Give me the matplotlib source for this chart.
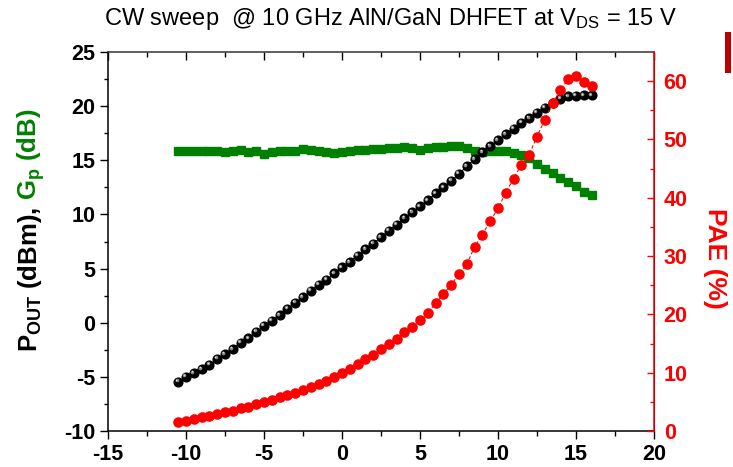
import matplotlib
matplotlib.use("Agg")
import matplotlib.pyplot as plt
import matplotlib.patches as mpatches
from matplotlib.transforms import offset_copy

plt.rcParams['font.family'] = ['Liberation Sans', 'DejaVu Sans']
plt.rcParams['mathtext.default'] = 'regular'
plt.rcParams['axes.unicode_minus'] = False

# input power sweep (dBm)
pin = [-10.5, -10.0, -9.5, -9.0, -8.5, -8.0, -7.5, -7.0, -6.5, -6.0,
       -5.5, -5.0, -4.5, -4.0, -3.5, -3.0, -2.5, -2.0, -1.5, -1.0,
       -0.5, 0.0, 0.5, 1.0, 1.5, 2.0, 2.5, 3.0, 3.5, 4.0,
       4.5, 5.0, 5.5, 6.0, 6.5, 7.0, 7.5, 8.0, 8.5, 9.0,
       9.5, 10.0, 10.5, 11.0, 11.5, 12.0, 12.5, 13.0, 13.5, 14.0,
       14.5, 15.0, 15.5, 16.0]

pout = [-5.45, -5.0, -4.65, -4.3, -3.9, -3.35, -2.9, -2.45, -1.85, -1.45,
        -0.85, -0.3, 0.2, 0.7, 1.3, 1.85, 2.35, 2.95, 3.5, 3.95,
        4.55, 5.1, 5.6, 6.2, 6.8, 7.3, 7.9, 8.5, 9.05, 9.65,
        10.2, 10.75, 11.3, 11.95, 12.5, 13.1, 13.75, 14.45, 15.1, 15.75,
        16.3, 16.85, 17.4, 17.9, 18.45, 18.9, 19.4, 19.85, 20.3, 20.7,
        20.9, 20.95, 21.0, 21.0]

gp = [15.9, 15.9, 15.9, 15.9, 15.9, 15.85, 15.75, 15.85, 15.95, 15.8,
      15.85, 15.6, 15.8, 15.85, 15.85, 15.9, 16.0, 15.95, 15.85, 15.75,
      15.7, 15.8, 15.9, 15.95, 15.95, 16.0, 16.05, 16.1, 16.15, 16.2,
      16.1, 15.95, 16.1, 16.2, 16.25, 16.3, 16.35, 16.1, 15.85, 15.8,
      15.85, 15.9, 15.85, 15.7, 15.5, 15.2, 14.7, 14.2, 13.8, 13.4,
      13.0, 12.6, 12.1, 11.8]

pae = [1.6, 1.7, 2.0, 2.35, 2.6, 2.9, 3.2, 3.5, 3.9, 4.2,
       4.6, 4.9, 5.3, 5.8, 6.2, 6.6, 7.0, 7.6, 8.1, 8.6,
       9.3, 9.9, 10.7, 11.5, 12.3, 13.0, 14.0, 14.9, 15.8, 16.9,
       17.9, 19.0, 20.3, 21.9, 23.5, 25.1, 26.9, 28.6, 31.6, 33.7,
       36.0, 38.2, 40.9, 43.3, 45.7, 47.4, 50.5, 53.4, 56.2, 58.5,
       60.3, 60.9, 59.8, 59.2]

W, H = 733, 467
fig = plt.figure(figsize=(W / 100, H / 100), dpi=100)
ax = fig.add_axes([108 / W, 1 - 431 / H, (654 - 108) / W, (431 - 52) / H])
ax2 = ax.twinx()

# gain, output power, PAE
ax.plot(pin, gp, 's-', color='#008000', ms=5.6, lw=1, mec='#008000', zorder=2)
ax.plot(pin, pout, 'o-', color='black', ms=6.3, lw=0.8, mec='black', zorder=3)
hl = offset_copy(ax.transData, fig=fig, x=-1.1, y=1.1, units='points')
ax.plot(pin, pout, 'o', color='#8a8a8a', ms=2.6, mec='none', transform=hl, zorder=4)
hl2 = offset_copy(ax.transData, fig=fig, x=-1.3, y=1.3, units='points')
ax.plot(pin, pout, 'o', color='#e0e0e0', ms=1.1, mec='none', transform=hl2, zorder=5)
ax2.plot(pin, pae, 'o--', color='#ff0000', ms=6.6, lw=0.8, mec='#ff0000',
         dashes=(3, 2))

ax.set_xlim(-15, 20)
ax.set_ylim(-10, 25)
ax2.set_ylim(0, 65)
ax.set_xticks([-15, -10, -5, 0, 5, 10, 15, 20])
ax.set_xticks([-12.5, -7.5, -2.5, 2.5, 7.5, 12.5, 17.5], minor=True)
ax.set_yticks([-10, -5, 0, 5, 10, 15, 20, 25])
ax.set_yticks([-7.5, -2.5, 2.5, 7.5, 12.5, 17.5, 22.5], minor=True)
ax2.set_yticks([0, 10, 20, 30, 40, 50, 60])
ax2.set_yticks([5, 15, 25, 35, 45, 55], minor=True)

ax.tick_params(axis='x', which='both', direction='out', top=True,
               labelsize=15.5, width=1, pad=3)
ax.tick_params(axis='x', which='major', length=6)
ax.tick_params(axis='x', which='minor', length=3.5)
ax.tick_params(axis='y', which='both', direction='out', labelsize=15.5, width=1, pad=3)
ax.tick_params(axis='y', which='major', length=6)
ax.tick_params(axis='y', which='minor', length=3)
for t in ax.xaxis.get_major_ticks() + ax.xaxis.get_minor_ticks():
    t.tick2line.set_marker(3)  # top ticks point inward
ax2.tick_params(axis='y', which='both', direction='in', colors='#ff0000',
                labelsize=15.5, width=1, pad=7)
ax2.tick_params(axis='y', which='major', length=5)
ax2.tick_params(axis='y', which='minor', length=3)

for lab in ax.get_xticklabels() + ax.get_yticklabels() + ax2.get_yticklabels():
    lab.set_fontweight('bold')

for s in ['left', 'bottom', 'top']:
    ax.spines[s].set_linewidth(1.1)
ax.spines['top'].set_color('#333333')
ax2.spines['right'].set_color('#ff0000')
ax2.spines['right'].set_linewidth(1.1)
for s in ['left', 'bottom', 'top']:
    ax2.spines[s].set_visible(False)

fig.text(390 / W, 1 - 25 / H,
         r'CW sweep  @ 10 GHz AlN/GaN DHFET at V$_{DS}$ = 15 V',
         ha='center', va='baseline', fontsize=17)

# two-colour left label
lab_kw = dict(rotation=90, rotation_mode='anchor', ha='left', va='baseline',
              fontsize=18.5, fontweight='bold')
t1 = fig.text(37 / W, 1 - 352 / H, r'P$_{OUT}$ (dBm),', color='black', **lab_kw)
fig.canvas.draw()
ext = t1.get_window_extent(fig.canvas.get_renderer())
fig.text(37 / W, (ext.y1 + 7) / H, r'G$_{p}$ (dB)', color='#008000', **lab_kw)

fig.text(703 / W, 1 - 258 / H, 'PAE (%)', rotation=270, ha='left', va='center',
         fontsize=19, fontweight='bold', color='#ff0000')

# clipped legend marker at the right edge
fig.patches.append(mpatches.Rectangle((725 / W, 1 - 73 / H), 6 / W, 41 / H,
                                      transform=fig.transFigure,
                                      facecolor='#c00000', edgecolor='none'))

fig.savefig('out.png', dpi=100)
